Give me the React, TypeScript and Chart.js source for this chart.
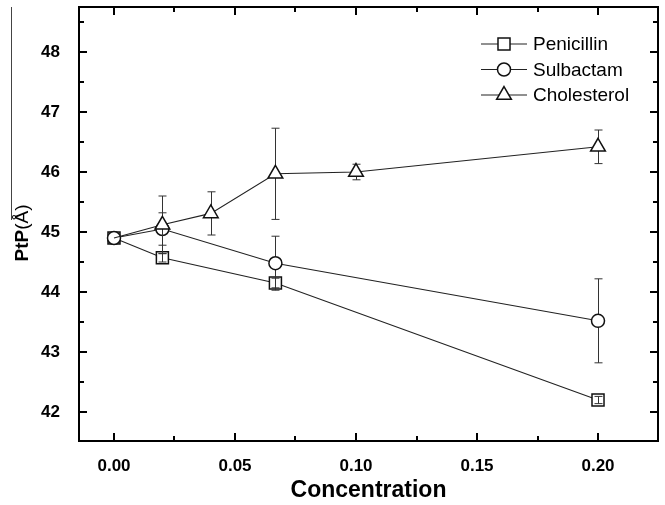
import React, { useEffect, useRef } from 'react';
import { Chart, registerables } from 'chart.js';

Chart.register(...registerables);

// ---- data ----
const seriesNames = ['Penicillin', 'Sulbactam', 'Cholesterol'];
const penicillinX = [0, 0.02, 0.0667, 0.2];
const penicillinY = [44.9, 44.57, 44.15, 42.2];
const penicillinErr = [0.03, 0.07, 0.08, 0.06];
const sulbactamX = [0, 0.02, 0.0667, 0.2];
const sulbactamY = [44.9, 45.05, 44.48, 43.52];
const sulbactamErr = [0.03, 0.27, 0.45, 0.7];
const cholesterolX = [0, 0.02, 0.04, 0.0667, 0.1, 0.2];
const cholesterolY = [44.9, 45.12, 45.31, 45.97, 46.0, 46.42];
const cholesterolErr = [0, 0.48, 0.36, 0.76, 0.13, 0.28];

const xTicks = [0, 0.05, 0.1, 0.15, 0.2];
const xMinorTicks = [0.025, 0.075, 0.125, 0.175];
const yTicks = [42, 43, 44, 45, 46, 47, 48];
const yMinorTicks = [42.5, 43.5, 44.5, 45.5, 46.5, 47.5, 48.5];
const xTitle = 'Concentration';
const yTitleBold = 'PtP';
const yTitleRest = '(Å)';

const seriesX = [penicillinX, sulbactamX, cholesterolX];
const seriesY = [penicillinY, sulbactamY, cholesterolY];
const seriesErr = [penicillinErr, sulbactamErr, cholesterolErr];
const pointStyles = ['rect', 'circle', 'triangle'];
const pointRadii = [8.5, 6.5, 8.5];

const FONT = "'Liberation Sans', Arial, sans-serif";

function drawMarker(ctx: CanvasRenderingContext2D, style: string, x: number, y: number, r: number) {
  ctx.beginPath();
  if (style === 'circle') {
    ctx.arc(x, y, r, 0, Math.PI * 2);
  } else if (style === 'rect') {
    const s = r * Math.SQRT1_2;
    ctx.rect(x - s, y - s, 2 * s, 2 * s);
  } else {
    let rad = 0;
    const T = (2 * Math.PI) / 3;
    ctx.moveTo(x + Math.sin(rad) * r, y - Math.cos(rad) * r);
    rad += T;
    ctx.lineTo(x + Math.sin(rad) * r, y - Math.cos(rad) * r);
    rad += T;
    ctx.lineTo(x + Math.sin(rad) * r, y - Math.cos(rad) * r);
    ctx.closePath();
  }
  ctx.fillStyle = '#fff';
  ctx.fill();
  ctx.lineWidth = 1.5;
  ctx.strokeStyle = '#111';
  ctx.stroke();
}

function drawErr(chart: any, i: number) {
  const ctx: CanvasRenderingContext2D = chart.ctx;
  const xS = chart.scales.x;
  const yS = chart.scales.y;
  ctx.save();
  ctx.strokeStyle = '#333';
  ctx.lineWidth = 1;
  const xs = seriesX[i], ys = seriesY[i], es = seriesErr[i];
  for (let j = 0; j < xs.length; j++) {
    if (!es[j]) continue;
    const px = Math.round(xS.getPixelForValue(xs[j])) + 0.5;
    const top = yS.getPixelForValue(ys[j] + es[j]);
    const bot = yS.getPixelForValue(ys[j] - es[j]);
    ctx.beginPath();
    ctx.moveTo(px, top);
    ctx.lineTo(px, bot);
    ctx.moveTo(px - 4, top);
    ctx.lineTo(px + 4, top);
    ctx.moveTo(px - 4, bot);
    ctx.lineTo(px + 4, bot);
    ctx.stroke();
  }
  ctx.restore();
}

const errorBarPlugin = {
  id: 'errorBars',
  beforeDatasetDraw(chart: any, args: any) {
    if (args.index !== 0) drawErr(chart, args.index);
  },
  afterDatasetDraw(chart: any, args: any) {
    if (args.index === 0) drawErr(chart, args.index);
  },
};

const framePlugin = {
  id: 'frame',
  afterDraw(chart: any) {
    const ctx: CanvasRenderingContext2D = chart.ctx;
    const { left, right, top, bottom } = chart.chartArea;
    const xS = chart.scales.x;
    const yS = chart.scales.y;
    ctx.save();
    ctx.strokeStyle = '#000';
    ctx.lineWidth = 2;
    ctx.strokeRect(left, top, right - left, bottom - top);
    const tick = (vals: number[], len: number) => {
      ctx.beginPath();
      vals.forEach((v) => {
        const px = Math.round(xS.getPixelForValue(v));
        ctx.moveTo(px, bottom);
        ctx.lineTo(px, bottom - len);
        ctx.moveTo(px, top);
        ctx.lineTo(px, top + len);
      });
      ctx.stroke();
    };
    const tickY = (vals: number[], len: number) => {
      ctx.beginPath();
      vals.forEach((v) => {
        const py = Math.round(yS.getPixelForValue(v));
        ctx.moveTo(left, py);
        ctx.lineTo(left + len, py);
        ctx.moveTo(right, py);
        ctx.lineTo(right - len, py);
      });
      ctx.stroke();
    };
    tick(xTicks, 8);
    tick(xMinorTicks, 5);
    tickY(yTicks, 8);
    tickY(yMinorTicks, 5);

    // y title: bold "PtP" + regular "(Å)", rotated
    const center = (top + bottom) / 2 + 9;
    const fontSize = 19;
    ctx.font = `bold ${fontSize}px ${FONT}`;
    const wBold = ctx.measureText(yTitleBold).width;
    ctx.font = `${fontSize}px ${FONT}`;
    const wRest = ctx.measureText(yTitleRest).width;
    const total = wBold + wRest;
    ctx.save();
    ctx.translate(28, center + total / 2);
    ctx.rotate(-Math.PI / 2);
    ctx.fillStyle = '#000';
    ctx.textBaseline = 'alphabetic';
    ctx.textAlign = 'left';
    ctx.font = `bold ${fontSize}px ${FONT}`;
    ctx.fillText(yTitleBold, 0, 0);
    ctx.font = `${fontSize}px ${FONT}`;
    ctx.fillText(yTitleRest, wBold, 0);
    ctx.restore();
    // overline artefact
    ctx.strokeStyle = '#444';
    ctx.lineWidth = 1;
    ctx.beginPath();
    ctx.moveTo(11.5, top);
    ctx.lineTo(11.5, center - 13);
    ctx.stroke();

    // legend
    const lx0 = right - 177;
    const lx1 = right - 131;
    const mx = (lx0 + lx1) / 2;
    ctx.font = `19px ${FONT}`;
    ctx.textBaseline = 'middle';
    ctx.textAlign = 'left';
    seriesNames.forEach((name, i) => {
      const y = top + 37 + i * 25.5;
      ctx.strokeStyle = '#222';
      ctx.lineWidth = 1.2;
      ctx.beginPath();
      ctx.moveTo(lx0, y);
      ctx.lineTo(lx1, y);
      ctx.stroke();
      drawMarker(ctx, pointStyles[i], mx, y, pointRadii[i]);
      ctx.fillStyle = '#000';
      ctx.fillText(name, lx1 + 6, y + 1);
    });
    ctx.restore();
  },
};

const zeroPad = (s: any) => {
  s.paddingTop = 0;
  s.paddingBottom = 0;
  s.paddingLeft = 0;
  s.paddingRight = 0;
};

export default function App() {
  const ref = useRef<HTMLCanvasElement>(null);
  useEffect(() => {
    const canvas = ref.current!;
    const orders = [3, 2, 1];
    const datasets = seriesNames.map((name, i) => ({
      label: name,
      data: seriesX[i].map((x, j) => ({ x, y: seriesY[i][j] })),
      showLine: true,
      borderColor: '#222',
      borderWidth: 1.1,
      pointStyle: pointStyles[i] as any,
      // the shared starting point is shown only by the square and circle markers
      pointRadius: i === 2 ? seriesX[i].map((_, j) => (j === 0 ? 0 : pointRadii[i])) : pointRadii[i],
      pointBorderWidth: 1.5,
      pointBorderColor: '#111',
      pointBackgroundColor: '#fff',
      order: orders[i],
    }));
    const chart = new Chart(canvas, {
      type: 'scatter',
      data: { datasets },
      options: {
        animation: false,
        responsive: false,
        devicePixelRatio: 1,
        layout: { autoPadding: false, padding: { top: 7, right: 7, left: 0, bottom: 0 } },
        plugins: { legend: { display: false }, tooltip: { enabled: false } },
        scales: {
          x: {
            type: 'linear',
            min: -0.01446,
            max: 0.22479,
            grid: { display: false },
            border: { display: false },
            afterFit: (s: any) => { s.height = 64; zeroPad(s); },
            afterBuildTicks: (s: any) => { s.ticks = xTicks.map((v) => ({ value: v })); },
            ticks: {
              padding: 7,
              color: '#000',
              font: { family: FONT, size: 17, weight: 'bold' },
              callback: (v: any) => Number(v).toFixed(2),
            },
            title: {
              display: true,
              text: xTitle,
              color: '#000',
              font: { family: FONT, size: 23, weight: 'bold' },
              padding: { top: 0, bottom: 1 },
            },
          },
          y: {
            type: 'linear',
            min: 41.517,
            max: 48.75,
            grid: { display: false },
            border: { display: false },
            afterFit: (s: any) => { s.width = 79; zeroPad(s); },
            afterBuildTicks: (s: any) => { s.ticks = yTicks.map((v) => ({ value: v })); },
            ticks: {
              padding: 11,
              color: '#000',
              font: { family: FONT, size: 17, weight: 'bold' },
              callback: (v: any) => String(v),
            },
          },
        },
      },
      plugins: [errorBarPlugin, framePlugin],
    } as any);
    return () => chart.destroy();
  }, []);
  return (
    <div style={{ position: 'absolute', left: 0, top: 0, width: 665, height: 505, background: '#fff' }}>
      <canvas ref={ref} width={665} height={505} style={{ display: 'block' }} />
    </div>
  );
}
